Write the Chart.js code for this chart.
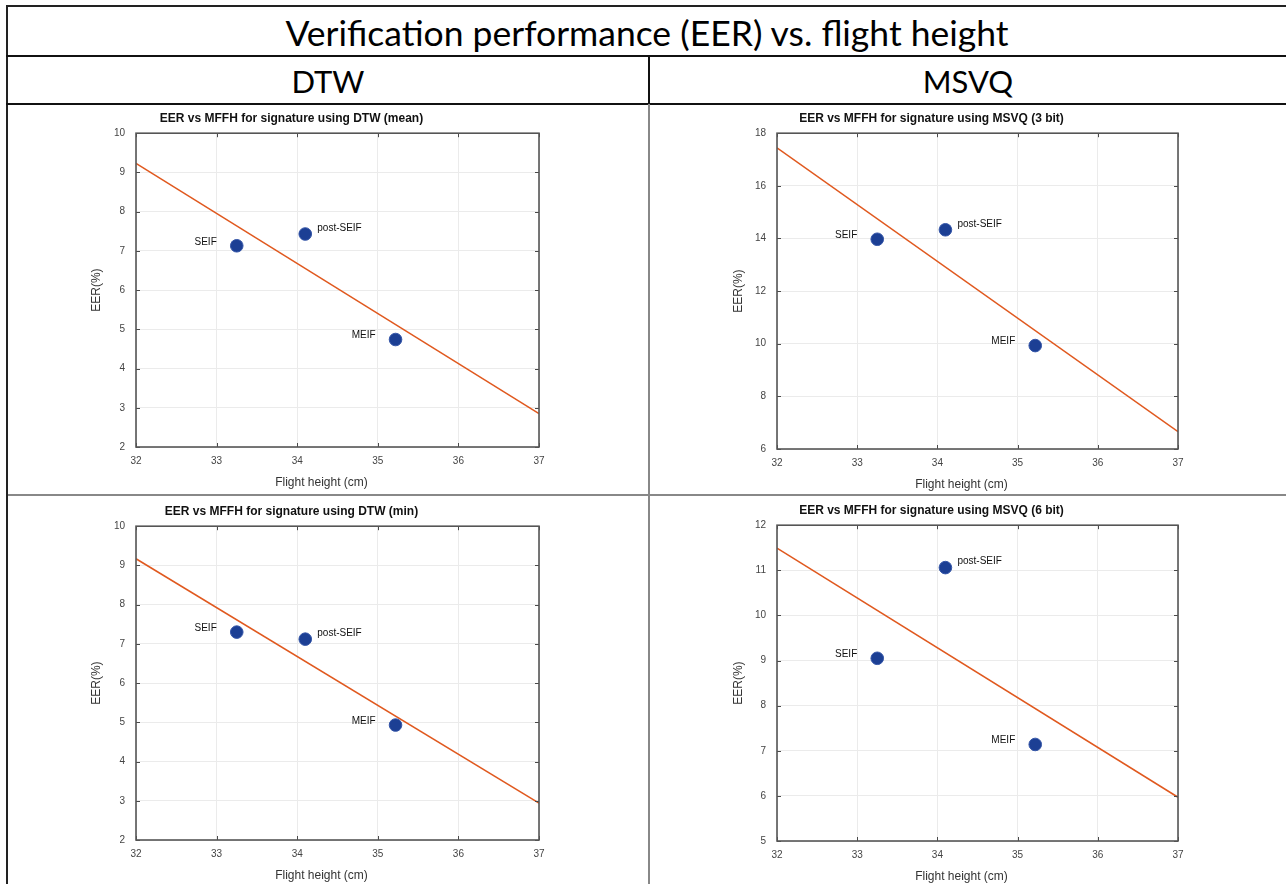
<!DOCTYPE html>
<html>
<head>
<meta charset="utf-8">
<script src="https://cdn.jsdelivr.net/npm/chart.js@4.4.0/dist/chart.umd.min.js"></script>
<style>
  html, body { margin: 0; padding: 0; overflow: hidden; background: #fff; width: 1286px; height: 884px; }
  .rule { position: absolute; }
  .head { position: absolute; font-family: Lato, 'Open Sans', sans-serif; color: #000; text-align: center; }
  canvas { position: absolute; }
</style>
</head>
<body>
<!-- table frame -->
<div class="rule" style="left:6px;top:5px;width:1280px;height:2px;background:#222"></div>
<div class="rule" style="left:6px;top:5px;width:2px;height:879px;background:#222"></div>
<div class="rule" style="left:6px;top:55px;width:1280px;height:2px;background:#111"></div>
<div class="rule" style="left:6px;top:103px;width:1280px;height:2px;background:#111"></div>
<div class="rule" style="left:648px;top:55px;width:2px;height:49px;background:#111"></div>
<div class="rule" style="left:648px;top:104px;width:2px;height:780px;background:#888"></div>
<div class="rule" style="left:8px;top:494px;width:1278px;height:2px;background:#888"></div>

<div class="head" style="left:8px;top:7px;width:1278px;height:48px;line-height:52px;font-size:35.5px">Verification performance (EER) vs. flight height</div>
<div class="head" style="left:8px;top:57px;width:640px;height:46px;line-height:48px;font-size:31px">DTW</div>
<div class="head" style="left:650px;top:57px;width:636px;height:46px;line-height:48px;font-size:31px">MSVQ</div>

<canvas id="c1" width="564" height="388" style="left:8px;top:106px"></canvas>
<canvas id="c2" width="563" height="388" style="left:651px;top:106px"></canvas>
<canvas id="c3" width="564" height="388" style="left:8px;top:499px"></canvas>
<canvas id="c4" width="563" height="388" style="left:651px;top:498px"></canvas>

<script>
// Datos
const pointNames = ['SEIF', 'post-SEIF', 'MEIF'];
const flightHeights = [33.25, 34.1, 35.22];

const dtwMean = [7.13, 7.43, 4.74];
const msvq3 = [13.97, 14.33, 9.93];
const dtwMin = [7.3, 7.12, 4.93];
const msvq6 = [9.05, 11.06, 7.14];

// Rectas de ajuste (extremos en x = 32 y x = 37)
const fitX = [32, 37];
const dtwMeanFit = [9.23, 2.85];
const msvq3Fit = [17.44, 6.66];
const dtwMinFit = [9.17, 2.94];
const msvq6Fit = [11.49, 5.97];

// Ticks
const xTicks = [32, 33, 34, 35, 36, 37];
const dtwTicks = [2, 3, 4, 5, 6, 7, 8, 9, 10];
const msvq3Ticks = [6, 8, 10, 12, 14, 16, 18];
const msvq6Ticks = [5, 6, 7, 8, 9, 10, 11, 12];

const FONT = "'Liberation Sans', Arial, Helvetica, sans-serif";
const DOT = '#1c3f94';
const FIT = '#e0591f';
const X_TITLE = 'Flight height (cm)';

// Caja estilo MATLAB con ticks hacia dentro, título y etiqueta del eje x
const boxPlugin = {
    id: 'matlabBox',
    afterDraw(chart, args, opts) {
        const { ctx, chartArea: a, scales: { x, y } } = chart;
        const cx = (a.left + a.right) / 2;
        ctx.save();
        ctx.strokeStyle = '#4a4a4a';
        ctx.lineWidth = 1;
        ctx.beginPath();
        x.ticks.forEach((t, i) => {
            const px = Math.round(x.getPixelForTick(i)) + 0.5;
            ctx.moveTo(px, a.bottom); ctx.lineTo(px, a.bottom - 4);
            ctx.moveTo(px, a.top); ctx.lineTo(px, a.top + 4);
        });
        y.ticks.forEach((t, i) => {
            const py = Math.round(y.getPixelForTick(i)) + 0.5;
            ctx.moveTo(a.left, py); ctx.lineTo(a.left + 4, py);
            ctx.moveTo(a.right, py); ctx.lineTo(a.right - 4, py);
        });
        ctx.stroke();
        ctx.lineWidth = 1.6;
        ctx.strokeStyle = '#555';
        ctx.strokeRect(a.left, a.top, a.width, a.height);

        ctx.textAlign = 'center';
        ctx.textBaseline = 'middle';
        // título, desplazado a la izquierda como en la figura
        ctx.font = 'bold 12px ' + FONT;
        ctx.fillStyle = '#111';
        ctx.fillText(opts.title, cx - 46, a.top - 15);
        // xlabel
        ctx.font = '12px ' + FONT;
        ctx.fillStyle = '#333';
        ctx.fillText(X_TITLE, cx - 16, a.bottom + 36);
        ctx.restore();
    }
};

// Etiquetas de texto junto a cada punto
const labelPlugin = {
    id: 'pointNames',
    afterDatasetsDraw(chart, args, opts) {
        const { ctx, scales: { x, y } } = chart;
        const data = chart.data.datasets[0].data;
        ctx.save();
        ctx.font = '10px ' + FONT;
        ctx.fillStyle = '#111';
        ctx.textBaseline = 'middle';
        data.forEach((p, i) => {
            const px = x.getPixelForValue(p.x);
            const py = y.getPixelForValue(p.y);
            const name = opts.names[i];
            if (name === 'post-SEIF') {
                ctx.textAlign = 'left';
                ctx.fillText(name, px + 12, py - 6);
            } else {
                ctx.textAlign = 'right';
                ctx.fillText(name, px - 20, py - 4);
            }
        });
        ctx.restore();
    }
};

const makeChart = (id, title, values, fit, ticks, lay) => {
    const ctx = document.getElementById(id).getContext('2d');
    return new Chart(ctx, {
        data: {
            datasets: [
                {
                    type: 'scatter',
                    data: flightHeights.map((h, i) => ({ x: h, y: values[i] })),
                    backgroundColor: DOT,
                    borderColor: '#3556a8',
                    borderWidth: 1,
                    pointRadius: 6.3
                },
                {
                    type: 'line',
                    data: fitX.map((h, i) => ({ x: h, y: fit[i] })),
                    borderColor: FIT,
                    borderWidth: 1.5,
                    pointRadius: 0,
                    fill: false
                }
            ]
        },
        options: {
            responsive: false,
            animation: false,
            events: [],
            layout: {
                padding: { left: lay.padLeft, right: lay.padRight, top: 27.2, bottom: 0 }
            },
            scales: {
                x: {
                    type: 'linear',
                    min: xTicks[0],
                    max: xTicks[xTicks.length - 1],
                    afterBuildTicks: (s) => { s.ticks = xTicks.map(v => ({ value: v })); },
                    afterFit: (s) => { s.height = lay.xHeight; },
                    grid: { color: '#ebebeb', drawTicks: false },
                    border: { display: false },
                    ticks: { padding: 8, color: '#444', font: { family: FONT, size: 10 } },
                    title: { display: false }
                },
                y: {
                    type: 'linear',
                    min: ticks[0],
                    max: ticks[ticks.length - 1],
                    afterBuildTicks: (s) => { s.ticks = ticks.map(v => ({ value: v })); },
                    afterFit: (s) => { s.width = lay.yWidth; },
                    grid: { color: '#ebebeb', drawTicks: false },
                    border: { display: false },
                    ticks: { padding: 11, color: '#444', font: { family: FONT, size: 10 } },
                    title: {
                        display: true,
                        text: 'EER(%)',
                        color: '#333',
                        font: { family: FONT, size: 12, lineHeight: 1.2 },
                        padding: { top: 0, bottom: 0 }
                    }
                }
            },
            plugins: {
                legend: { display: false },
                tooltip: { enabled: false },
                title: { display: false },
                matlabBox: { title: title },
                pointNames: { names: pointNames }
            }
        },
        plugins: [boxPlugin, labelPlugin]
    });
};

const leftLayout = { padLeft: 81.5, padRight: 33, yWidth: 46.5, xHeight: 47 };
const rightLayout = { padLeft: 80.5, padRight: 36, yWidth: 45.5, xHeight: 45 };

makeChart('c1', 'EER vs MFFH for signature using DTW (mean)', dtwMean, dtwMeanFit, dtwTicks, leftLayout);
makeChart('c2', 'EER vs MFFH for signature using MSVQ (3 bit)', msvq3, msvq3Fit, msvq3Ticks, rightLayout);
makeChart('c3', 'EER vs MFFH for signature using DTW (min)', dtwMin, dtwMinFit, dtwTicks, leftLayout);
makeChart('c4', 'EER vs MFFH for signature using MSVQ (6 bit)', msvq6, msvq6Fit, msvq6Ticks, rightLayout);
</script>
</body>
</html>
